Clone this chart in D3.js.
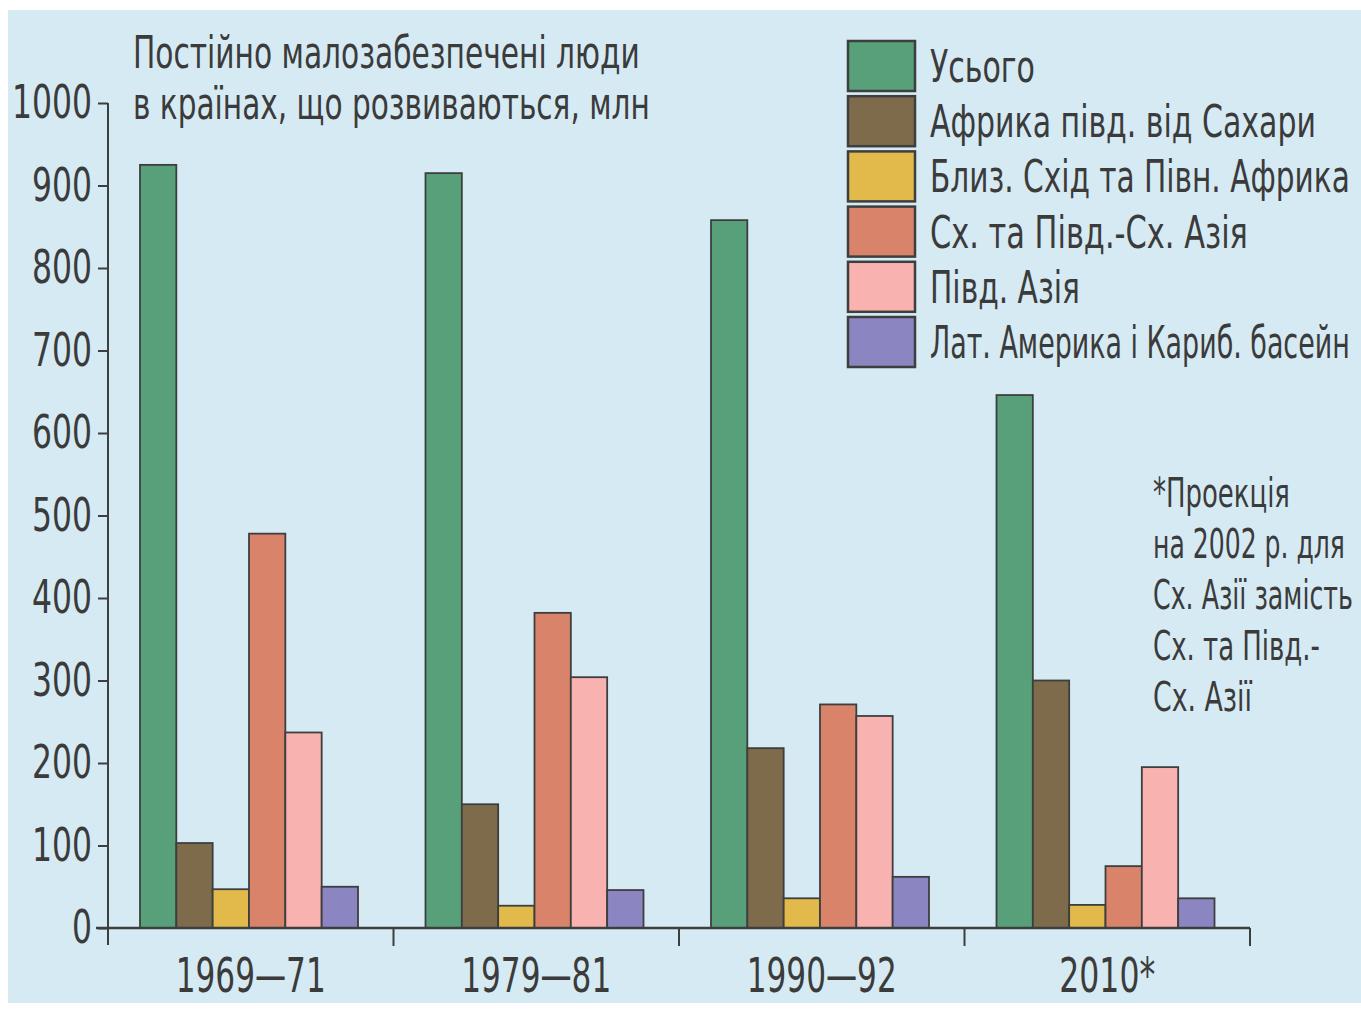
<!DOCTYPE html>
<html>
<head>
<meta charset="utf-8">
<script src="https://d3js.org/d3.v7.min.js"></script>
<style>
  body { margin: 0; background: #fff; }
  text { font-family: "Liberation Sans Narrow", "DejaVu Sans Condensed", "Liberation Sans", sans-serif; fill: #3b3b3b; }
</style>
</head>
<body>
<svg width="1361" height="1009"></svg>
<script>
// periods on the x axis
var periods = ["1969—71", "1979—81", "1990—92", "2010*"];

// series (legend order)
var seriesNames = ["Усього", "Африка півд. від Сахари", "Близ. Схід та Півн. Африка",
                   "Сх. та Півд.-Сх. Азія", "Півд. Азія", "Лат. Америка і Кариб. басейн"];
var seriesColors = ["#58a079", "#7e6b4c", "#e2b94b", "#d8836a", "#f8b3b1", "#8b85c1"];

// values, millions of people
var total      = [925, 915, 858, 646];
var africa     = [103, 150, 218, 300];
var nearEast   = [47, 27, 36, 28];
var eastAsia   = [478, 382, 271, 75];
var southAsia  = [237, 304, 257, 195];
var latAmerica = [50, 46, 62, 36];

var yTicks = [0, 100, 200, 300, 400, 500, 600, 700, 800, 900, 1000];

var titleLines = ["Постійно малозабезпечені люди", "в країнах, що розвиваються, млн"];
var noteLines = ["*Проекція", "на 2002 р. для", "Сх. Азії замість", "Сх. та Півд.-", "Сх. Азії"];

var seriesValues = [total, africa, nearEast, eastAsia, southAsia, latAmerica];
var rows = periods.map(function(p, i) {
  return { period: p, values: seriesValues.map(function(s, k) { return { key: k, value: s[i] }; }) };
});

// the print uses a condensed face: squeeze each text horizontally to its width in the scan
function squeeze(sel, widthOf) {
  sel.each(function(d, i) {
    var t = d3.select(this);
    var w = this.getComputedTextLength();
    var k = Math.min(1, widthOf(d, i) / w);
    var x = +t.attr("x") || 0;
    t.attr("transform", "translate(" + x + ",0) scale(" + k + ",1) translate(" + (-x) + ",0)");
  });
}

var svg = d3.select("svg");

// scanned page background
svg.append("rect")
    .attr("x", 8).attr("y", 10)
    .attr("width", 1353).attr("height", 993)
    .attr("fill", "#d6eaf3");

var y = d3.scaleLinear().domain([0, 1000]).range([928, 103]);
var x0 = d3.scaleBand().domain(periods).range([108, 1250]).padding(0);
var x1 = d3.scaleBand().domain(d3.range(seriesNames.length)).range([32, 250]).padding(0);

// bars
var groups = svg.selectAll(".grp")
    .data(rows)
    .enter().append("g")
    .attr("class", "grp")
    .attr("transform", function(d) { return "translate(" + x0(d.period) + ",0)"; });

groups.selectAll("rect")
    .data(function(d) { return d.values; })
    .enter().append("rect")
    .attr("x", function(d) { return x1(d.key); })
    .attr("y", function(d) { return y(d.value); })
    .attr("width", x1.bandwidth())
    .attr("height", function(d) { return y(0) - y(d.value); })
    .attr("fill", function(d) { return seriesColors[d.key]; })
    .attr("stroke", "#3d3f3f")
    .attr("stroke-width", 1.8);

// y axis
var yAxis = svg.append("g")
    .attr("transform", "translate(108,0)")
    .call(d3.axisLeft(y).tickValues(yTicks).tickFormat(d3.format("d")).tickSize(10).tickPadding(6));
yAxis.select(".domain").remove();
yAxis.append("line")
    .attr("x1", 0).attr("x2", 0).attr("y1", y(1000)).attr("y2", 945)
    .attr("stroke", "#3d3f3f").attr("stroke-width", 2);
yAxis.selectAll(".tick line").attr("stroke", "#3d3f3f").attr("stroke-width", 2);
var yLabels = yAxis.selectAll(".tick text")
    .style("font-size", "46px")
    .style("fill", "#3b3b3b");
squeeze(yLabels, function(d) { return String(d).length * 20; });

// x axis
var xAxis = svg.append("g")
    .attr("transform", "translate(0," + y(0) + ")");
xAxis.append("line")
    .attr("x1", 96).attr("x2", 1250).attr("y1", 0).attr("y2", 0)
    .attr("stroke", "#3d3f3f").attr("stroke-width", 2.5);
xAxis.selectAll(".sep")
    .data(periods)
    .enter().append("line")
    .attr("class", "sep")
    .attr("x1", function(d) { return x0(d) + x0.bandwidth(); })
    .attr("x2", function(d) { return x0(d) + x0.bandwidth(); })
    .attr("y1", 0).attr("y2", 18)
    .attr("stroke", "#3d3f3f").attr("stroke-width", 2);
var xLabels = xAxis.selectAll(".lbl")
    .data(periods)
    .enter().append("text")
    .attr("class", "lbl")
    .attr("x", function(d) { return x0(d) + x0.bandwidth() / 2; })
    .attr("y", 64)
    .attr("text-anchor", "middle")
    .style("font-size", "48px")
    .text(function(d) { return d; });
squeeze(xLabels, function(d) { return d === "2010*" ? 96 : 150; });

// title
var title = svg.selectAll(".title")
    .data(titleLines)
    .enter().append("text")
    .attr("class", "title")
    .attr("x", 133)
    .attr("y", function(d, i) { return 68 + i * 51; })
    .style("font-size", "44px")
    .text(function(d) { return d; });
squeeze(title, function(d, i) { return i === 0 ? 507 : 517; });

// legend
var legendWidths = [105, 386, 420, 318, 150, 420];
var legend = svg.selectAll(".leg")
    .data(seriesNames)
    .enter().append("g")
    .attr("class", "leg")
    .attr("transform", function(d, i) { return "translate(848," + (41 + i * 55.2) + ")"; });
legend.append("rect")
    .attr("width", 67).attr("height", 50)
    .attr("fill", function(d, i) { return seriesColors[i]; })
    .attr("stroke", "#3d3f3f").attr("stroke-width", 2.5);
var legendText = legend.append("text")
    .attr("x", 82).attr("y", 41)
    .style("font-size", "45px")
    .text(function(d) { return d; });
squeeze(legendText, function(d, i) { return legendWidths[seriesNames.indexOf(d)]; });

// footnote
var noteWidths = [137, 192, 200, 167, 99];
var notes = svg.selectAll(".note")
    .data(noteLines)
    .enter().append("text")
    .attr("class", "note")
    .attr("x", 1153)
    .attr("y", function(d, i) { return 507 + i * 51; })
    .style("font-size", "40px")
    .text(function(d) { return d; });
squeeze(notes, function(d, i) { return noteWidths[i]; });
</script>
</body>
</html>
